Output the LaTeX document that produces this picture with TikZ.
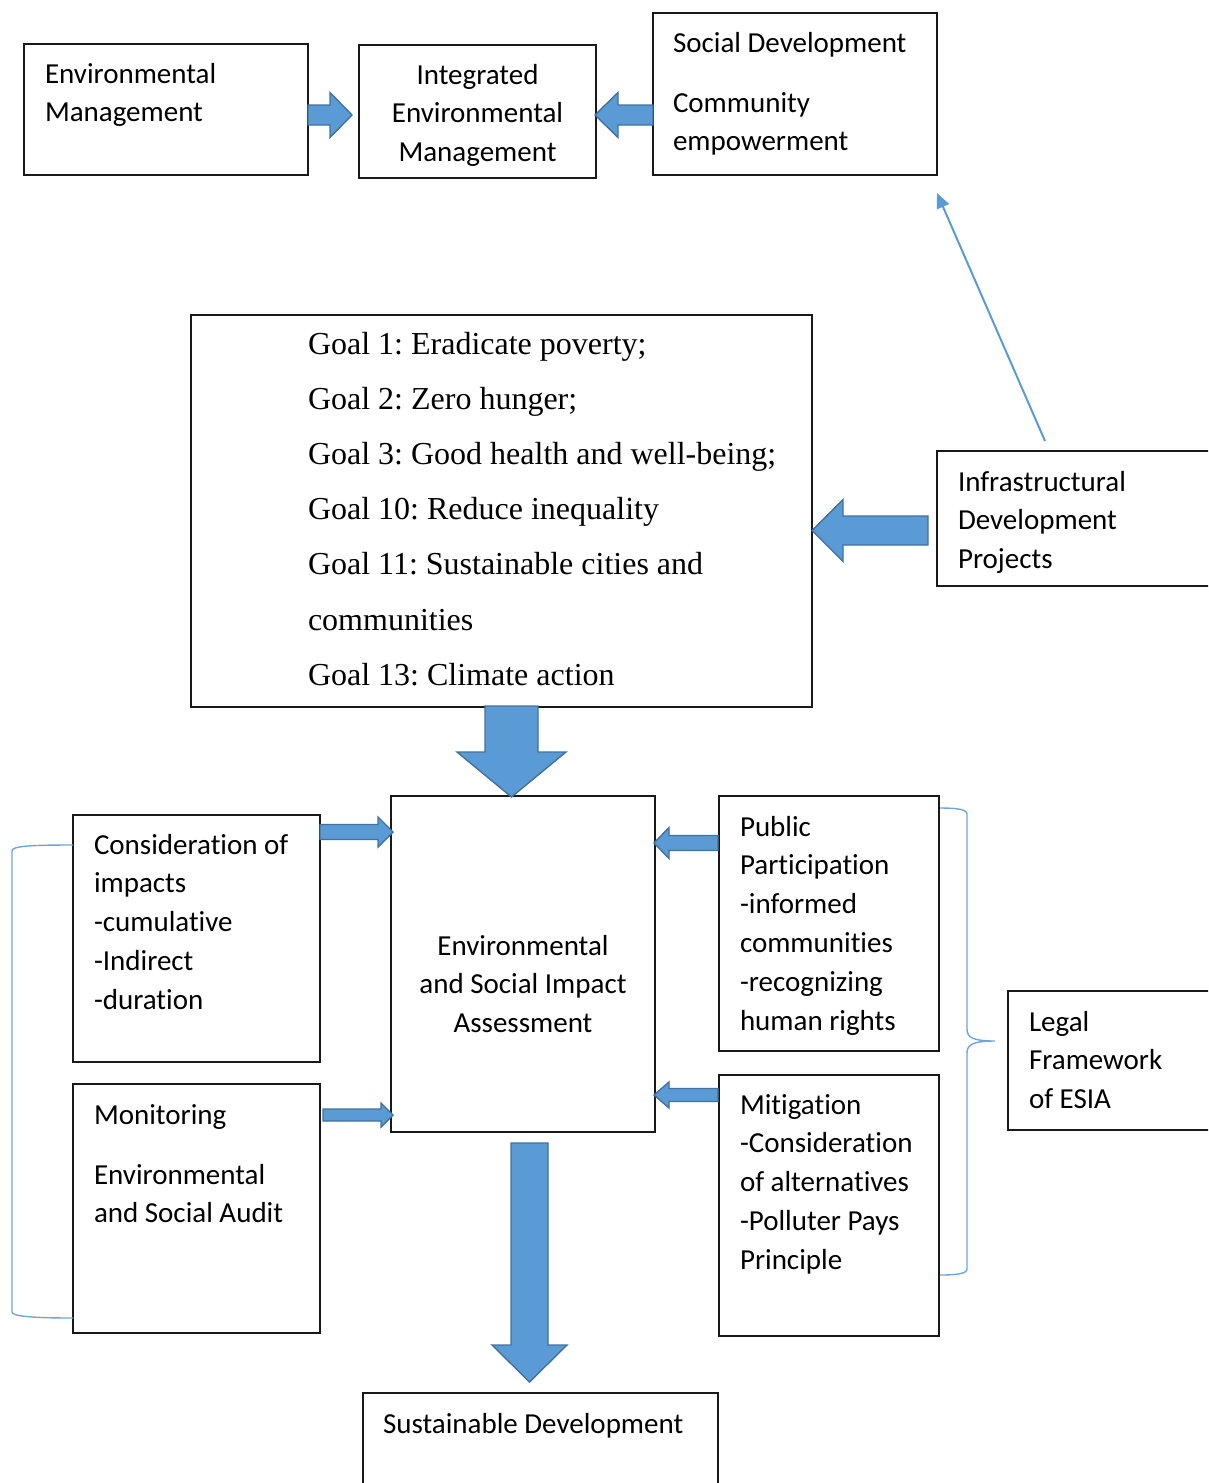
\documentclass[tikz,border=0pt]{standalone}
\usepackage{fontspec}
\setmainfont[Ligatures={NoCommon,NoContextual}]{Carlito}
\newfontfamily\goalfont{Liberation Serif}
\usetikzlibrary{arrows.meta}
\frenchspacing

\definecolor{arrfill}{HTML}{5B9BD5}
\definecolor{arrline}{HTML}{41719C}
\definecolor{bracecol}{HTML}{6FA6DA}

% horizontal block arrow: tail x, tip x, centre y, shaft half width, head half width, head length (signed)
\newcommand\hblk[6]{%
  \filldraw[blk] (#1,#3-#4) -- ({#2-(#6)},#3-#4) -- ({#2-(#6)},#3-#5) -- (#2,#3)
    -- ({#2-(#6)},#3+#5) -- ({#2-(#6)},#3+#4) -- (#1,#3+#4) -- cycle;}
% vertical block arrow: tail y, tip y, centre x, shaft half width, head half width, head length
\newcommand\vblk[6]{%
  \filldraw[blk] (#3-#4,#1) -- (#3-#4,{#2-(#6)}) -- (#3-#5,{#2-(#6)}) -- (#3,#2)
    -- (#3+#5,{#2-(#6)}) -- (#3+#4,{#2-(#6)}) -- (#3+#4,#1) -- cycle;}

\begin{document}
\begin{tikzpicture}[x=1pt,y=-1pt,
  box/.style={draw=black!90, line width=1.2pt, inner sep=0pt, outer sep=0pt, anchor=north west},
  txt/.style={inner sep=0pt, outer sep=0pt, font=\fontsize{29}{38.8}\selectfont, align=left, anchor=base west},
  ctxt/.style={txt, align=center, anchor=base},
  goal/.style={inner sep=0pt, outer sep=0pt, font=\goalfont\fontsize{32}{55.2}\selectfont, align=left, anchor=base west},
  blk/.style={fill=arrfill, draw=arrline, line width=1.4pt, line join=miter},
  brace/.style={draw=bracecol, line width=1.4pt},
  thinarrow/.style={draw=arrfill, line width=2pt, -{Triangle[length=15pt,width=13pt]}},
]
\useasboundingbox (0,0) rectangle (1208,1483);
\clip (0,0) rectangle (1208,1483);

% boxes
\node[box, minimum width=284pt, minimum height=131pt] (envm) at (24,44) {};
\node[box, minimum width=237pt, minimum height=133pt] (iem) at (359,45) {};
\node[box, minimum width=284pt, minimum height=162pt] (social) at (653,13) {};
\node[box, minimum width=621pt, minimum height=392pt] (goals) at (191,315) {};
\node[box, minimum width=290pt, minimum height=135pt] (infra) at (937,451) {};
\node[box, minimum width=247pt, minimum height=247pt] (cons) at (73,815) {};
\node[box, minimum width=247pt, minimum height=249pt] (monit) at (73,1084) {};
\node[box, minimum width=264pt, minimum height=336pt] (esia) at (391,796) {};
\node[box, minimum width=220pt, minimum height=255pt] (public) at (719,796) {};
\node[box, minimum width=220pt, minimum height=261pt] (mitig) at (719,1075) {};
\node[box, minimum width=220pt, minimum height=139pt] (legal) at (1008,991) {};
\node[box, minimum width=355pt, minimum height=110pt] (sustd) at (363,1393) {};

% texts (multi-line nodes are placed by the baseline of their last line)
\node[txt] (t-envm) at (45,121.8) {Environmental\\Management};
\node[ctxt] (t-iem) at (477.5,161.6) {Integrated\\Environmental\\Management};
\node[txt] (t-social) at (673,52) {Social Development};
\node[txt] (t-comm) at (673,150.8) {Community\\empowerment};
\node[goal] (t-goals) at (308,685.2) {Goal 1: Eradicate poverty;\\Goal 2: Zero hunger;\\Goal 3: Good health and well-being;\\Goal 10: Reduce inequality\\Goal 11: Sustainable cities and\\communities\\Goal 13: Climate action};
\node[txt] (t-infra) at (958,568.6) {Infrastructural\\Development\\Projects};
\node[txt] (t-cons) at (94,1009.2) {Consideration of\\impacts\\-cumulative\\-Indirect\\-duration};
\node[txt] (t-monit) at (94,1124) {Monitoring};
\node[txt] (t-audit) at (94,1222.8) {Environmental\\and Social Audit};
\node[ctxt] (t-esia) at (523,1032.6) {Environmental\\and Social Impact\\Assessment};
\node[txt] (t-public) at (740,1030) {Public\\Participation\\-informed\\communities\\-recognizing\\human rights};
\node[txt] (t-mitig) at (740,1269.2) {Mitigation\\-Consideration\\of alternatives\\-Polluter Pays\\Principle};
\node[txt] (t-legal) at (1029,1108.6) {Legal\\Framework\\of ESIA};
\node[txt] (t-sustd) at (383,1433) {Sustainable Development};

% block arrows
\hblk{308}{352}{115}{10}{22.5}{22}
\hblk{653}{595}{115}{10}{22.5}{-23}
\hblk{928}{812}{530.5}{14.5}{31}{-31}
\vblk{706}{797}{511.5}{26.5}{54.5}{45}
\hblk{320}{393}{832}{7.5}{15}{15}
\hblk{718}{654}{843}{7.5}{15.5}{-15}
\hblk{323}{393}{1115}{6}{12}{12}
\hblk{718}{654}{1095}{6.5}{13}{-15}
\vblk{1143}{1382}{529.5}{18.5}{37.5}{37}

% thin arrow from the infrastructure box towards social development
\coordinate (infra-out) at (1045,441);
\coordinate (social-in) at (937,193);
\draw[thinarrow] (infra-out) -- (social-in);

% brackets
\draw[brace] (73,845) .. controls (30,845) and (12,846) .. (12,851) -- (12,1312)
  .. controls (12,1316) and (30,1318) .. (73,1318);
\draw[brace] (940,808) .. controls (955,808) and (967,809) .. (967,814) -- (967,1029)
  .. controls (967,1037) and (972,1041) .. (995,1041)
  .. controls (972,1041) and (967,1045) .. (967,1053) -- (967,1269)
  .. controls (967,1274) and (955,1275) .. (940,1275);
\end{tikzpicture}
\end{document}
